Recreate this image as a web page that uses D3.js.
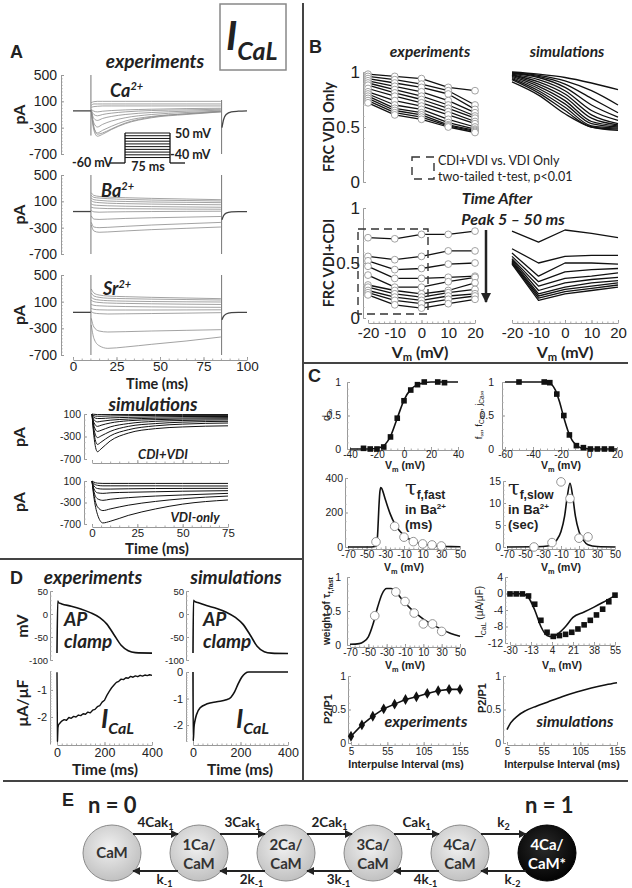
<!DOCTYPE html>
<html>
<head>
<meta charset="utf-8">
<script src="https://cdnjs.cloudflare.com/ajax/libs/d3/7.8.5/d3.min.js"></script>
<style>body{margin:0;background:#fff}</style>
</head>
<body>
<script>
// ---------- data: panel A, experiments (pA vs ms) ----------
const caTimes = [10.5, 12, 14, 17, 22, 30, 45, 65, 85];
const caTraces = [
  [80, 95, 100, 100, 100, 100, 100, 100, 100],
  [40, 60, 60, 60, 60, 60, 60, 60, 60],
  [10, 20, 25, 30, 30, 30, 30, 30, 30],
  [-20, -50, -60, -50, -40, -30, -20, -10, -5],
  [-30, -100, -120, -100, -80, -60, -40, -30, -20],
  [-40, -160, -190, -160, -130, -100, -70, -50, -35],
  [-40, -230, -290, -250, -200, -150, -100, -70, -50],
  [-50, -300, -380, -340, -280, -200, -130, -90, -60],
  [-50, -340, -430, -400, -330, -240, -150, -100, -60],
  [-40, -290, -400, -380, -320, -230, -140, -90, -50]
];
const baTimes = [10.5, 12, 15, 20, 30, 45, 65, 85];
const baTraces = [
  [230, 190, 175, 165, 155, 145, 135, 125],
  [190, 160, 150, 140, 130, 120, 112, 105],
  [150, 125, 115, 105, 98, 90, 85, 80],
  [110, 90, 80, 72, 65, 58, 52, 48],
  [60, 45, 38, 32, 26, 20, 15, 10],
  [10, 0, -5, -10, -12, -15, -18, -20],
  [-40, -60, -65, -62, -58, -55, -52, -50],
  [-120, -170, -175, -170, -160, -150, -140, -130],
  [-220, -290, -300, -295, -280, -260, -240, -220],
  [-260, -350, -370, -365, -350, -330, -310, -290]
];
const srTimes = [10.5, 12, 15, 20, 30, 45, 65, 85];
const srTraces = [
  [290, 230, 200, 185, 175, 165, 155, 145],
  [230, 185, 165, 152, 145, 138, 132, 125],
  [170, 140, 125, 115, 108, 102, 98, 95],
  [120, 100, 88, 80, 74, 68, 62, 58],
  [60, 45, 38, 32, 27, 22, 18, 15],
  [0, -15, -22, -25, -25, -25, -24, -22],
  [-50, -70, -80, -85, -82, -78, -72, -65],
  [-150, -280, -340, -355, -350, -340, -330, -320],
  [-250, -450, -560, -600, -580, -540, -490, -430]
];
const aBaselines = [-45, -55, -60];
const preTimes = [0, 10.2];
const tailTimes = [85.6, 86.5, 88, 91, 95, 100];
const caTail = [-300, -180, -100, -60, -50, -45];
const baTail = [-180, -120, -80, -60, -55, -55];
const srTail = [-170, -120, -85, -65, -60, -60];
// capacitive transients: [time, top, bottom]
const caEdges = [[10.3, 500, -420], [85.4, 120, -700]];
const baEdges = [[10.3, 500, -700], [85.4, 500, -700]];
const srEdges = [[10.3, 500, -700], [85.4, 500, -700]];
const aTicks = [500, 100, -300, -700];
const aTimeTicks = [0, 25, 50, 75, 100];
// voltage protocol
const protoLevels = [-40, -30, -20, -10, 0, 10, 20, 30, 40, 50];
const protoHold = -60;
const protoStep = [0, 75];
const protoPad = [-25, 100];

// ---------- panel A, simulations ----------
const cdiTimes = [0, 1, 3, 5, 10, 20, 35, 50, 75];
const cdiTraces = [
  [100, 95, 90, 90, 90, 90, 90, 90, 90],
  [100, 70, 60, 60, 65, 70, 75, 75, 75],
  [100, 40, 20, 20, 30, 40, 50, 55, 55],
  [100, 0, -40, -30, -10, 10, 25, 30, 35],
  [100, -50, -120, -100, -60, -20, 0, 10, 15],
  [100, -100, -210, -190, -130, -70, -30, -15, -5],
  [100, -160, -320, -290, -210, -120, -70, -45, -30],
  [100, -220, -440, -400, -290, -180, -110, -80, -60],
  [100, -280, -570, -520, -380, -240, -160, -130, -110]
];
const vdiTimes = [0, 1, 3, 6, 10, 20, 35, 50, 75];
const vdiTraces = [
  [100, 80, 60, 55, 55, 55, 55, 55, 55],
  [100, 50, 20, 10, 10, 10, 10, 8, 7],
  [100, 10, -40, -50, -50, -45, -40, -38, -36],
  [100, -40, -120, -130, -120, -110, -100, -90, -80],
  [100, -90, -230, -260, -240, -210, -180, -160, -130],
  [100, -140, -380, -450, -420, -350, -280, -230, -180],
  [100, -190, -520, -680, -650, -540, -420, -330, -253]
];
const simTicks = [100, -300, -700];
const simTimeTicks = [0, 25, 50, 75];

// ---------- panel B ----------
const bVm = [-20, -10, 0, 10, 20];
const vdiExp = [
  [0.98, 0.96, 0.94, 0.86, 0.83],
  [0.96, 0.93, 0.89, 0.83, 0.70],
  [0.94, 0.90, 0.86, 0.80, 0.66],
  [0.92, 0.87, 0.82, 0.74, 0.63],
  [0.90, 0.84, 0.78, 0.70, 0.60],
  [0.88, 0.81, 0.75, 0.67, 0.58],
  [0.85, 0.78, 0.72, 0.64, 0.55],
  [0.82, 0.74, 0.69, 0.61, 0.53],
  [0.80, 0.70, 0.66, 0.57, 0.50],
  [0.78, 0.67, 0.63, 0.54, 0.48],
  [0.76, 0.65, 0.61, 0.52, 0.47],
  [0.74, 0.63, 0.59, 0.51, 0.46],
  [0.72, 0.61, 0.57, 0.50, 0.45]
];
const vdiSim = [
  [1.00, 0.98, 0.95, 0.90, 0.84],
  [0.995, 0.97, 0.92, 0.83, 0.70],
  [0.99, 0.96, 0.89, 0.76, 0.63],
  [0.985, 0.95, 0.86, 0.70, 0.59],
  [0.98, 0.93, 0.83, 0.65, 0.56],
  [0.975, 0.91, 0.80, 0.61, 0.53],
  [0.97, 0.89, 0.77, 0.58, 0.52],
  [0.96, 0.87, 0.74, 0.55, 0.51],
  [0.95, 0.85, 0.71, 0.53, 0.50],
  [0.94, 0.83, 0.68, 0.51, 0.49],
  [0.93, 0.81, 0.65, 0.50, 0.48],
  [0.91, 0.79, 0.62, 0.50, 0.47]
];
const cdiExp = [
  [0.73, 0.72, 0.76, 0.76, 0.79],
  [0.56, 0.53, 0.56, 0.61, 0.61],
  [0.52, 0.44, 0.45, 0.49, 0.50],
  [0.47, 0.36, 0.36, 0.37, 0.38],
  [0.39, 0.28, 0.28, 0.33, 0.37],
  [0.30, 0.25, 0.22, 0.25, 0.32],
  [0.28, 0.22, 0.19, 0.23, 0.26],
  [0.25, 0.19, 0.16, 0.20, 0.22],
  [0.23, 0.16, 0.13, 0.17, 0.20],
  [0.21, 0.12, 0.09, 0.13, 0.17]
];
const cdiSim = [
  [0.79, 0.69, 0.80, 0.77, 0.73],
  [0.63, 0.50, 0.56, 0.57, 0.57],
  [0.59, 0.38, 0.50, 0.50, 0.49],
  [0.56, 0.33, 0.42, 0.44, 0.45],
  [0.54, 0.29, 0.36, 0.38, 0.41],
  [0.53, 0.25, 0.32, 0.35, 0.37],
  [0.52, 0.22, 0.28, 0.32, 0.34],
  [0.51, 0.20, 0.26, 0.29, 0.32],
  [0.50, 0.18, 0.24, 0.27, 0.30],
  [0.49, 0.16, 0.22, 0.25, 0.28]
];
const frcTicks = [0, 0.5, 1];

// ---------- panel C ----------
const dV = [-30, -25, -20, -15, -10, -5, 0, 5, 10, 15, 25, 30];
const dVal = [0.01, 0.0, 0.0, 0.03, 0.18, 0.46, 0.72, 0.88, 0.96, 1.0, 1.0, 0.99];
const dFitV = [-40, -25, -20, -15, -10, -5, 0, 5, 10, 15, 20, 40];
const dFit = [0, 0, 0.01, 0.05, 0.19, 0.46, 0.73, 0.89, 0.96, 0.99, 1, 1];
const fV = [-50, -32, -28, -23, -18, -14, -9, -4, 1, 6, 11, 16];
const fVal = [1, 1, 0.99, 0.82, 0.5, 0.21, 0.05, 0.02, 0, 0, 0, 0];
const fFitV = [-60, -30, -27, -24, -21, -18, -15, -12, -9, -6, -3, 0, 20];
const fFit = [1, 1, 0.97, 0.88, 0.7, 0.47, 0.27, 0.13, 0.06, 0.02, 0.01, 0, 0];
const tfV = [-40, -20, -10, 0, 10, 20, 30];
const tfVal = [30, 120, 57, 31, 18, 12, 6];
const tfFitV = [-70, -45, -40, -39, -38, -37, -36, -35, -34, -30, -25, -20, -15, -10, -5, 0, 10, 20, 30, 40, 50];
const tfFit = [0, 0, 4, 20, 100, 220, 310, 345, 340, 275, 195, 135, 95, 67, 48, 34, 17, 8, 4, 2, 1];
const tsV = [-40, -20, -10, 0, 10, 20];
const tsVal = [0, 1, 14.8, 11, 2, 2.3];
const tsFitV = [-70, -30, -20, -15, -10, -6, -3, 0, 3, 6, 10, 15, 20, 30, 50];
const tsFit = [0, 0.1, 0.5, 1.5, 3.5, 7, 11.5, 14.5, 11.5, 7, 3.5, 1.5, 0.5, 0.1, 0];
const wV = [-43, -20, -10, 0, 10, 20, 30];
const wVal = [0.43, 0.78, 0.64, 0.47, 0.31, 0.31, 0.2];
const wFitV = [-70, -60, -55, -50, -45, -40, -35, -30, -25, -20, -15, -10, -5, 0, 10, 20, 30, 40, 50];
const wFit = [0.01, 0.02, 0.05, 0.12, 0.3, 0.55, 0.75, 0.83, 0.83, 0.78, 0.7, 0.62, 0.55, 0.49, 0.38, 0.3, 0.23, 0.17, 0.13];
const ivV = [-30, -25, -20, -15, -10, -5, 0, 5, 10, 15, 20, 25, 30, 35, 40, 45, 50, 55];
const ivVal = [-0.1, -0.1, -0.1, -0.6, -2.6, -6.5, -9.4, -10.4, -10.2, -9.9, -9.4, -8.6, -7.6, -6.5, -5.2, -3.8, -2, -0.4];
const ivFitV = [-30, -20, -15, -10, -5, 0, 4, 10, 15, 21, 30, 38, 45, 55];
const ivFit = [0, -0.1, -1, -4, -8, -10.2, -10.5, -9.5, -8, -5.8, -4.5, -3.3, -2.2, -0.5];
const ipiExp = [5, 20, 35, 50, 65, 80, 95, 110, 125, 140, 155];
const p2p1Exp = [0.1, 0.27, 0.4, 0.51, 0.58, 0.65, 0.69, 0.74, 0.78, 0.8, 0.8];
const ipiSim = [5, 10, 20, 30, 45, 60, 80, 100, 120, 140, 155];
const p2p1Sim = [0.2, 0.3, 0.41, 0.48, 0.55, 0.61, 0.69, 0.76, 0.82, 0.87, 0.9];

// ---------- panel D ----------
const apExpT = [0, 3, 6, 20, 60, 100, 140, 180, 210, 240, 270, 300, 330, 400];
const apExpV = [-85, 28, 25, 22, 17, 11, 3, -8, -22, -45, -68, -80, -84, -85];
const apSimT = [0, 2, 5, 20, 60, 100, 140, 180, 210, 240, 270, 300, 330, 400];
const apSimV = [-85, 30, 28, 25, 18, 12, 4, -8, -22, -45, -70, -82, -85, -86];
const icalExpT = [0, 2, 4, 6, 10, 20, 30, 40, 50, 60, 70, 80, 90, 100, 110, 120, 130, 140, 150, 160, 170, 180, 190, 200, 210, 220, 230, 240, 250, 260, 270, 280, 290, 300, 310, 320, 330, 340, 350, 360, 370, 380, 390, 400];
const icalExpV = [-0.35, -2.9, -2.4, -2.3, -2.25, -2.15, -2.1, -2.12, -2.02, -2.05, -1.98, -2.0, -1.93, -1.95, -1.88, -1.9, -1.82, -1.85, -1.75, -1.72, -1.62, -1.58, -1.45, -1.38, -1.2, -1.05, -0.92, -0.82, -0.72, -0.68, -0.6, -0.62, -0.55, -0.57, -0.5, -0.53, -0.48, -0.51, -0.46, -0.49, -0.45, -0.47, -0.44, -0.46];
const icalSimT = [0, 1, 4, 8, 15, 30, 60, 100, 140, 160, 175, 190, 205, 220, 235, 250, 400];
const icalSimV = [0, -2.6, -2.1, -1.85, -1.6, -1.35, -1.2, -1.12, -1.05, -0.95, -0.75, -0.45, -0.2, -0.05, 0, 0, 0];

// ---------- panel E ----------
const camStates = ["CaM", "1Ca/|CaM", "2Ca/|CaM", "3Ca/|CaM", "4Ca/|CaM", "4Ca/|CaM*"];
const fwdRates = ["4Cak_1", "3Cak_1", "2Cak_1", "Cak_1", "k_2"];
const revRates = ["k_-1", "2k_-1", "3k_-1", "4k_-1", "k_-2"];

// =========================================================
const svg = d3.select("body").append("svg").attr("width", 632).attr("height", 888);
const ARIAL = "'Liberation Sans', Arial, sans-serif";
const CAL = "Lato, 'Open Sans', sans-serif";

const defs = svg.append("defs");
defs.append("marker").attr("id", "arr").attr("viewBox", "0 0 10 10").attr("refX", 9).attr("refY", 5)
  .attr("markerWidth", 4).attr("markerHeight", 4).attr("orient", "auto-start-reverse")
  .append("path").attr("d", "M0,0L10,5L0,10z").attr("fill", "#222");
const gl = defs.append("radialGradient").attr("id", "gl").attr("cx", "45%").attr("cy", "40%").attr("r", "65%");
gl.append("stop").attr("offset", "0%").attr("stop-color", "#f0f0f0");
gl.append("stop").attr("offset", "100%").attr("stop-color", "#bdbdbd");
const gd = defs.append("radialGradient").attr("id", "gd").attr("cx", "45%").attr("cy", "40%").attr("r", "65%");
gd.append("stop").attr("offset", "0%").attr("stop-color", "#2a2a2a");
gd.append("stop").attr("offset", "100%").attr("stop-color", "#000");

function label(x, y, s, o = {}) {
  const t = svg.append("text").attr("x", x).attr("y", y)
    .style("font-family", o.font || CAL)
    .style("font-size", (o.size || 12) + "px")
    .style("font-weight", o.weight || "bold")
    .style("font-style", o.italic ? "italic" : "normal")
    .attr("fill", o.fill || "#222")
    .attr("text-anchor", o.anchor || "start");
  if (o.rotate) t.attr("transform", `rotate(-90,${x},${y})`);
  if (Array.isArray(s)) {
    s.forEach(p => {
      const ts = t.append("tspan").text(p.t);
      if (p.size) ts.style("font-size", p.size + "px");
      if (p.dy) ts.attr("dy", p.dy);
      if (p.font) ts.style("font-family", p.font);
      if (p.weight) ts.style("font-weight", p.weight);
      if (p.italic !== undefined) ts.style("font-style", p.italic ? "italic" : "normal");
    });
  } else t.text(s);
  return t;
}

function styleAxis(g, o) {
  g.select(".domain").attr("stroke", o.color || "#999");
  g.selectAll(".tick line").attr("stroke", o.color || "#999");
  g.selectAll("text").style("font-family", o.font || ARIAL)
    .style("font-size", (o.size || 11) + "px").attr("fill", "#222");
}
function yAxis(x, scale, major, minor, o = {}) {
  const g = svg.append("g").attr("transform", `translate(${x},0)`)
    .call(d3.axisLeft(scale).tickValues(major).tickSize(-(o.tick || 3)).tickSizeOuter(0)
      .tickPadding(o.pad == null ? 3 : o.pad).tickFormat(o.fmt || (d => String(d))));
  styleAxis(g, o);
  if (minor) {
    const m = svg.append("g").attr("transform", `translate(${x},0)`)
      .call(d3.axisLeft(scale).tickValues(minor).tickSize(-1.5).tickSizeOuter(0).tickFormat(""));
    m.select(".domain").remove();
    m.selectAll("line").attr("stroke", o.color || "#aaa");
  }
  return g;
}
function xAxis(y, scale, major, minor, o = {}) {
  const g = svg.append("g").attr("transform", `translate(0,${y})`)
    .call(d3.axisBottom(scale).tickValues(major).tickSize(-(o.tick || 3)).tickSizeOuter(0)
      .tickPadding(o.pad == null ? 3 : o.pad).tickFormat(o.noLabels ? "" : (o.fmt || (d => String(d)))));
  styleAxis(g, o);
  if (minor) {
    const m = svg.append("g").attr("transform", `translate(0,${y})`)
      .call(d3.axisBottom(scale).tickValues(minor).tickSize(-1.5).tickSizeOuter(0).tickFormat(""));
    m.select(".domain").remove();
    m.selectAll("line").attr("stroke", o.color || "#aaa");
  }
  return g;
}
function path(xs, ys, sx, sy, o = {}) {
  const line = d3.line().x(d => sx(d[0])).y(d => sy(d[1])).curve(o.curve || d3.curveLinear);
  return svg.append("path").datum(xs.map((x, i) => [x, ys[i]])).attr("d", line)
    .attr("fill", "none").attr("stroke", o.stroke || "#111")
    .attr("stroke-width", o.width || 1.2).attr("stroke-linejoin", "round");
}
const range = (a, b, s) => d3.range(a, b + s / 2, s);
const Vm = (size = 11) => [{ t: "V" }, { t: "m", size: size * 0.7, dy: 3 }, { t: " (mV)", size, dy: -3 }];

// =========================================================
// Panel A
label(10, 58, "A", { size: 18, font: ARIAL });
svg.append("rect").attr("x", 220).attr("y", 4).attr("width", 66).attr("height", 66)
  .attr("fill", "none").attr("stroke", "#888").attr("stroke-width", 1.5);
label(226, 50, [{ t: "I" }, { t: "CaL", size: 25, dy: 10 }], { size: 40, italic: true });
label(155, 68, "experiments", { size: 19, italic: true, anchor: "middle" });

const tA = d3.scaleLinear([0, 100], [73, 247]);
const aPanels = [
  { times: caTimes, traces: caTraces, edges: caEdges, tail: caTail, base: aBaselines[0], y: d3.scaleLinear([-700, 500], [154, 75]), ion: "Ca", lx: 110, ly: 97 },
  { times: baTimes, traces: baTraces, edges: baEdges, tail: baTail, base: aBaselines[1], y: d3.scaleLinear([-700, 500], [254, 175]), ion: "Ba", lx: 101, ly: 197 },
  { times: srTimes, traces: srTraces, edges: srEdges, tail: srTail, base: aBaselines[2], y: d3.scaleLinear([-700, 500], [355, 275]), ion: "Sr", lx: 103, ly: 295 }
];
aPanels.forEach(p => {
  yAxis(61, p.y, aTicks, range(-700, 500, 50), { size: 14, pad: 4, color: "#999" });
  label(25, (p.y(500) + p.y(-700)) / 2, "pA", { size: 16, rotate: true, anchor: "middle" });
  p.traces.forEach(tr => path(p.times, tr, tA, p.y, { stroke: "#8c8c8c", width: 0.8, curve: d3.curveMonotoneX }));
  p.edges.forEach(e => path([e[0], e[0]], [e[1], e[2]], tA, p.y, { stroke: "#777", width: 1 }));
  path(preTimes, preTimes.map(() => p.base), tA, p.y, { stroke: "#444", width: 1.3 });
  path(tailTimes, p.tail, tA, p.y, { stroke: "#444", width: 1.3, curve: d3.curveMonotoneX });
  label(p.lx, p.ly, [{ t: p.ion }, { t: "2+", size: 11, dy: -7 }], { size: 18, italic: true });
});
xAxis(360, tA, aTimeTicks, range(0, 100, 5), { size: 13.5, pad: 1 });
label(157, 389, "Time (ms)", { size: 14.5, anchor: "middle" });

// voltage protocol inset
const pX = d3.scaleLinear(protoStep, [125, 170]);
const pY = d3.scaleLinear([protoHold, 50], [163, 133]);
path([protoPad[0], protoStep[0]], [protoHold, protoHold], pX, pY, { width: 1.3 });
path([protoStep[1], protoPad[1]], [protoHold, protoHold], pX, pY, { width: 1.3 });
protoLevels.forEach(v => path(protoStep, [v, v], pX, pY, { width: 1 }));
protoStep.forEach(t => path([t, t], [protoHold, d3.max(protoLevels)], pX, pY, { width: 1.3 }));
label(72, 167, "-60 mV", { size: 12.5 });
label(175, 138, "50 mV", { size: 12.5 });
label(170, 159, "-40 mV", { size: 12.5 });
label(148, 171, "75 ms", { size: 12.5, anchor: "middle" });

// simulations
label(153, 411, "simulations", { size: 18.5, italic: true, anchor: "middle" });
const tS = d3.scaleLinear([0, 75], [92, 228]);
const ySim1 = d3.scaleLinear([-700, 100], [459, 414]);
const ySim2 = d3.scaleLinear([-700, 100], [524, 481]);
yAxis(84, ySim1, simTicks, range(-700, 100, 100), { size: 10.5, pad: 3 });
yAxis(84, ySim2, simTicks, range(-700, 100, 100), { size: 10.5, pad: 3 });
xAxis(463, tS, simTimeTicks, range(0, 75, 5), { noLabels: true });
xAxis(527, tS, simTimeTicks, range(0, 75, 5), { size: 11.5, pad: 2 });
cdiTraces.forEach(tr => path(cdiTimes, tr, tS, ySim1, { width: 1, curve: d3.curveMonotoneX }));
vdiTraces.forEach(tr => path(vdiTimes, tr, tS, ySim2, { width: 1, curve: d3.curveMonotoneX }));
label(25, 437, "pA", { size: 16, rotate: true, anchor: "middle" });
label(25, 502, "pA", { size: 16, rotate: true, anchor: "middle" });
label(163, 459, "CDI+VDI", { size: 13, italic: true, anchor: "middle" });
label(195, 522, "VDI-only", { size: 13, italic: true, anchor: "middle" });
label(157, 554, "Time (ms)", { size: 15, anchor: "middle" });

// =========================================================
// dividers
const divider = (x1, y1, x2, y2) => svg.append("line").attr("x1", x1).attr("y1", y1).attr("x2", x2).attr("y2", y2)
  .attr("stroke", "#444").attr("stroke-width", 2);
divider(303, 3, 303, 782);
divider(0, 559, 303, 559);
divider(303, 363, 628, 363);
divider(3, 781, 628, 781);

// =========================================================
// Panel B
label(309, 53, "B", { size: 18, font: ARIAL });
label(430, 57, "experiments", { size: 15.5, italic: true, anchor: "middle" });
label(567, 57, "simulations", { size: 15.5, italic: true, anchor: "middle" });
const vB = d3.scaleLinear([-20, 20], [368, 475]);
const vBs = d3.scaleLinear([-20, 20], [512, 618]);
const yB1 = d3.scaleLinear([0, 1], [182, 72]);
const yB2 = d3.scaleLinear([0, 1], [318, 208]);
yAxis(363, yB1, frcTicks, range(0, 1, 0.1), { size: 17, pad: 3 });
yAxis(363, yB2, frcTicks, range(0, 1, 0.1), { size: 17, pad: 3 });
xAxis(323, vB, bVm, range(-20, 20, 2), { size: 15, pad: 4 });
xAxis(323, vBs, bVm, range(-20, 20, 2), { size: 15, pad: 4 });
label(334, (yB1(0) + yB1(1)) / 2, "FRC VDI Only", { size: 14.5, rotate: true, anchor: "middle" });
label(334, (yB2(0) + yB2(1)) / 2, "FRC VDI+CDI", { size: 14.5, rotate: true, anchor: "middle" });
label(420, 358, Vm(16), { size: 16, anchor: "middle" });
label(565, 358, Vm(16), { size: 16, anchor: "middle" });

function expSeries(rows, sy) {
  rows.forEach(r => path(bVm, r, vB, sy, { width: 1.3 }));
  rows.forEach(r => svg.append("g").selectAll("circle").data(r).join("circle")
    .attr("cx", (d, i) => vB(bVm[i])).attr("cy", d => sy(d)).attr("r", 3.4)
    .attr("fill", "#fff").attr("stroke", "#999").attr("stroke-width", 0.9));
}
expSeries(vdiExp, yB1);
expSeries(cdiExp, yB2);
vdiSim.forEach(r => path(bVm, r, vBs, yB1, { width: 1.3, curve: d3.curveMonotoneX }));
cdiSim.forEach(r => path(bVm, r, vBs, yB2, { width: 1.3 }));

svg.append("rect").attr("x", 412).attr("y", 157).attr("width", 22).attr("height", 22)
  .attr("fill", "none").attr("stroke", "#333").attr("stroke-width", 1.4).attr("stroke-dasharray", "8,6");
label(438, 165, "CDI+VDI vs. VDI Only", { size: 12.5, weight: "normal" });
label(438, 181, "two-tailed t-test, p<0.01", { size: 12.5, weight: "normal" });
svg.append("rect").attr("x", 358).attr("y", 229).attr("width", 70).attr("height", 85)
  .attr("fill", "none").attr("stroke", "#333").attr("stroke-width", 1.4).attr("stroke-dasharray", "8,5");
label(497, 204, "Time After", { size: 16, italic: true, anchor: "middle" });
label(513, 225, "Peak 5 \u2013 50 ms", { size: 16, italic: true, anchor: "middle" });
svg.append("line").attr("x1", 486).attr("y1", 230).attr("x2", 486).attr("y2", 302)
  .attr("stroke", "#222").attr("stroke-width", 2.5).attr("marker-end", "url(#arr)");

// =========================================================
// Panel C
label(308, 382, "C", { size: 18, font: ARIAL });
function cPlot(o) {
  yAxis(o.ax, o.y, o.yt, o.ym, { size: 10.5, pad: o.ypad || 2 });
  xAxis(o.ay, o.x, o.xt, o.xm, { size: 10, pad: o.xpad });
}
const markSq = (xs, ys, sx, sy) => svg.append("g").selectAll("rect").data(xs).join("rect")
  .attr("x", d => sx(d) - 2.8).attr("y", (d, i) => sy(ys[i]) - 2.8).attr("width", 5.6).attr("height", 5.6).attr("fill", "#111");
const markCirc = (xs, ys, sx, sy) => svg.append("g").selectAll("circle").data(xs).join("circle")
  .attr("cx", d => sx(d)).attr("cy", (d, i) => sy(ys[i])).attr("r", 4.3)
  .attr("fill", "#fff").attr("stroke", "#888").attr("stroke-width", 0.9);

// row 1
const x11 = d3.scaleLinear([-40, 40], [350, 458]), y11 = d3.scaleLinear([0, 1], [449, 382]);
cPlot({ x: x11, y: y11, ax: 347, ay: 450, xt: [-40, -20, 0, 20, 40], xm: range(-40, 40, 5), yt: frcTicks, ym: range(0, 1, 0.1), xpad: 1, ypad: 6 });
path(dFitV, dFit, x11, y11, { width: 1.6, curve: d3.curveMonotoneX });
markSq(dV, dVal, x11, y11);
label(405, 469, Vm(10.5), { size: 10.5, anchor: "middle", font: ARIAL });
label(330, 415, [{ t: "d" }, { t: "\u221e", size: 8, dy: 3 }], { size: 11, rotate: true, anchor: "middle", font: ARIAL, weight: "normal" });

const x12 = d3.scaleLinear([-60, 20], [505, 617]);
cPlot({ x: x12, y: y11, ax: 502, ay: 450, xt: [-60, -40, -20, 0, 20], xm: range(-60, 20, 5), yt: frcTicks, ym: range(0, 1, 0.1), xpad: 1, ypad: 8 });
path(fFitV, fFit, x12, y11, { width: 1.6, curve: d3.curveMonotoneX });
markSq(fV, fVal, x12, y11);
label(561, 469, Vm(10.5), { size: 10.5, anchor: "middle", font: ARIAL });
label(482, 415, [{ t: "f" }, { t: "\u221e", size: 6.5, dy: 2 }, { t: ", f", dy: -2 }, { t: "Ca\u221e", size: 6.5, dy: 2 }, { t: ", j", dy: -2 }, { t: "Ca\u221e", size: 6.5, dy: 2 }],
  { size: 9.5, rotate: true, anchor: "middle", font: ARIAL, weight: "normal" });

// row 2
const x21 = d3.scaleLinear([-70, 50], [348, 460]), y21 = d3.scaleLinear([0, 400], [547, 478]);
cPlot({ x: x21, y: y21, ax: 345, ay: 549, xt: [-70, -50, -30, -10, 10, 30, 50], xm: range(-70, 50, 5), yt: [0, 200, 400], ym: range(0, 400, 50), xpad: 2 });
path(tfFitV, tfFit, x21, y21, { width: 1.6, curve: d3.curveMonotoneX });
markCirc(tfV, tfVal, x21, y21);
label(404, 571, Vm(10.5), { size: 10.5, anchor: "middle", font: ARIAL });
label(405, 495, [{ t: "\u03c4", font: "'DejaVu Serif', serif", weight: "normal" }, { t: "f,fast", size: 12, dy: 4 }], { size: 21, font: ARIAL });
label(405, 514, [{ t: "in Ba" }, { t: "2+", size: 8, dy: -5 }], { size: 13, font: ARIAL });
label(405, 529, "(ms)", { size: 13, font: ARIAL });

const x22 = d3.scaleLinear([-70, 50], [507, 615]), y22 = d3.scaleLinear([0, 15], [547, 481]);
cPlot({ x: x22, y: y22, ax: 503, ay: 549, xt: [-70, -50, -30, -10, 10, 30, 50], xm: range(-70, 50, 5), yt: [0, 5, 10, 15], ym: range(0, 15, 1), xpad: 2 });
path(tsFitV, tsFit, x22, y22, { width: 1.6, curve: d3.curveMonotoneX });
markCirc(tsV, tsVal, x22, y22);
label(561, 571, Vm(10.5), { size: 10.5, anchor: "middle", font: ARIAL });
label(508, 495, [{ t: "\u03c4", font: "'DejaVu Serif', serif", weight: "normal" }, { t: "f,slow", size: 12, dy: 4 }], { size: 21, font: ARIAL });
label(508, 514, [{ t: "in Ba" }, { t: "2+", size: 8, dy: -5 }], { size: 13, font: ARIAL });
label(508, 529, "(sec)", { size: 13, font: ARIAL });

// row 3
const x31 = d3.scaleLinear([-70, 50], [350, 460]), y31 = d3.scaleLinear([0, 1], [645, 577]);
cPlot({ x: x31, y: y31, ax: 347, ay: 647, xt: [-70, -50, -30, -10, 10, 30, 50], xm: range(-70, 50, 5), yt: frcTicks, ym: range(0, 1, 0.1), xpad: 2, ypad: 6 });
path(wFitV, wFit, x31, y31, { width: 1.6, curve: d3.curveMonotoneX });
markCirc(wV, wVal, x31, y31);
label(405, 669, Vm(10.5), { size: 10.5, anchor: "middle", font: ARIAL });
label(330, 611, [{ t: "weight of \u03c4" }, { t: "f,fast", size: 7, dy: 2.5 }], { size: 10, rotate: true, anchor: "middle", font: ARIAL });

const x32 = d3.scaleLinear([-30, 55], [510, 615]), y32 = d3.scaleLinear([-12, 4], [643, 577]);
cPlot({ x: x32, y: y32, ax: 505, ay: 645, xt: [-30, -13, 4, 21, 38, 55], xm: range(-30, 55, 4.25), yt: [-12, -8, -4, 0, 4], ym: range(-12, 4, 1), xpad: 2 });
path(ivFitV, ivFit, x32, y32, { width: 1.6, curve: d3.curveMonotoneX });
markSq(ivV, ivVal, x32, y32);
label(562, 669, Vm(10.5), { size: 10.5, anchor: "middle", font: ARIAL });
label(483, 612, [{ t: "I" }, { t: "CaL", size: 7, dy: 2.5 }, { t: " (\u03bcA/\u03bcF)", dy: -2.5 }], { size: 10, rotate: true, anchor: "middle", font: ARIAL, weight: "normal" });

// row 4
const x41 = d3.scaleLinear([5, 155], [351, 460]), y41 = d3.scaleLinear([0, 1], [743, 676]);
cPlot({ x: x41, y: y41, ax: 348, ay: 745, xt: [5, 55, 105, 155], xm: range(5, 155, 10), yt: frcTicks, ym: range(0, 1, 0.1), xpad: 3 });
path(ipiExp, p2p1Exp, x41, y41, { width: 1.6 });
svg.append("g").selectAll("path").data(ipiExp).join("path")
  .attr("d", d3.symbol(d3.symbolDiamond, 34)).attr("fill", "#111")
  .attr("transform", (d, i) => `translate(${x41(d)},${y41(p2p1Exp[i])})`);
label(406, 768, "Interpulse Interval (ms)", { size: 10.5, anchor: "middle", font: ARIAL });
label(332, 709, "P2/P1", { size: 11, rotate: true, anchor: "middle", font: ARIAL });
label(426, 727, "experiments", { size: 16, italic: true, anchor: "middle" });

const x42 = d3.scaleLinear([5, 155], [507, 617]);
cPlot({ x: x42, y: y41, ax: 503, ay: 745, xt: [5, 55, 105, 155], xm: range(5, 155, 10), yt: frcTicks, ym: range(0, 1, 0.1), xpad: 3 });
path(ipiSim, p2p1Sim, x42, y41, { width: 1.6, curve: d3.curveMonotoneX });
label(562, 768, "Interpulse Interval (ms)", { size: 10.5, anchor: "middle", font: ARIAL });
label(486, 698, "P2/P1", { size: 11, rotate: true, anchor: "middle", font: ARIAL });
label(575, 727, "simulations", { size: 16, italic: true, anchor: "middle" });

// =========================================================
// Panel D
label(10, 584, "D", { size: 18, font: ARIAL });
label(93, 584, "experiments", { size: 19, italic: true, anchor: "middle" });
label(236, 584, "simulations", { size: 19, italic: true, anchor: "middle" });
const tDL = d3.scaleLinear([0, 400], [57, 152]);
const tDR = d3.scaleLinear([0, 400], [193, 288]);
const yAP = d3.scaleLinear([-100, 50], [660, 591]);
const yIL = d3.scaleLinear([-3, -0.3], [744, 671]);
const yIR = d3.scaleLinear([-2.6, 0], [741, 672]);
yAxis(50, yAP, [50, 0, -50, -100], range(-100, 50, 10), { size: 9.5, pad: 2 });
yAxis(186, yAP, [50, 0, -50, -100], range(-100, 50, 10), { size: 9.5, pad: 2 });
yAxis(50, yIL, [-1, -2], range(-2.9, -0.3, 0.1), { size: 11, pad: 3 });
yAxis(186, yIR, [0, -1, -2], range(-2.6, 0, 0.1), { size: 11, pad: 3 });
xAxis(745, tDL, [0, 200, 400], range(0, 400, 20), { size: 12.5, pad: 3 });
xAxis(745, tDR, [0, 200, 400], range(0, 400, 20), { size: 12.5, pad: 3 });
path(apExpT, apExpV, tDL, yAP, { width: 1.6, curve: d3.curveMonotoneX });
path(apSimT, apSimV, tDR, yAP, { width: 1.6, curve: d3.curveMonotoneX });
path(icalExpT, icalExpV, tDL, yIL, { width: 1.4 });
path(icalSimT, icalSimV, tDR, yIR, { width: 1.6, curve: d3.curveMonotoneX });
label(28, 626, "mV", { size: 16, rotate: true, anchor: "middle" });
label(28, 703, "\u03bcA/\u03bcF", { size: 16, rotate: true, anchor: "middle" });
[64, 203].forEach(x => {
  label(x, 626, "AP", { size: 19, italic: true });
  label(x, 648, "clamp", { size: 19, italic: true });
});
label(101, 728, [{ t: "I" }, { t: "CaL", size: 16, dy: 6 }], { size: 26, italic: true });
label(236, 728, [{ t: "I" }, { t: "CaL", size: 16, dy: 6 }], { size: 26, italic: true });
label(105, 775, "Time (ms)", { size: 15.5, anchor: "middle" });
label(240, 775, "Time (ms)", { size: 15.5, anchor: "middle" });

// =========================================================
// Panel E
label(62, 806, "E", { size: 18, font: ARIAL });
label(88, 813, "n = 0", { size: 22 });
label(525, 813, "n = 1", { size: 22 });
const sx = d3.scalePoint(d3.range(camStates.length), [112, 547]);
const cy = 853;
camStates.forEach((s, i) => {
  const last = i === camStates.length - 1;
  svg.append("ellipse").attr("cx", sx(i)).attr("cy", cy).attr("rx", 29).attr("ry", 28)
    .attr("fill", last ? "url(#gd)" : "url(#gl)").attr("stroke", last ? "#000" : "#8a8a8a").attr("stroke-width", 1);
  const lines = s.split("|");
  lines.forEach((ln, j) => label(sx(i), lines.length === 1 ? cy + 5 : cy - 3 + j * 19, ln,
    { size: 15, anchor: "middle", fill: last ? "#fff" : "#333" }));
});
const rateText = r => {
  const [a, b] = r.split("_");
  return [{ t: a }, { t: b, size: 9, dy: 3 }];
};
d3.range(camStates.length - 1).forEach(i => {
  const x1 = sx(i) + 21, x2 = sx(i + 1) - 21;
  svg.append("line").attr("x1", x1).attr("y1", cy - 19).attr("x2", x2).attr("y2", cy - 19)
    .attr("stroke", "#222").attr("stroke-width", 2).attr("marker-end", "url(#arr)");
  svg.append("line").attr("x1", x2).attr("y1", cy + 18).attr("x2", x1).attr("y2", cy + 18)
    .attr("stroke", "#222").attr("stroke-width", 2).attr("marker-end", "url(#arr)");
  label((sx(i) + sx(i + 1)) / 2, cy - 26, rateText(fwdRates[i]), { size: 13.5, anchor: "middle" });
  label((sx(i) + sx(i + 1)) / 2 + 9, cy + 31, rateText(revRates[i]), { size: 13.5, anchor: "middle" });
});
</script>
</body>
</html>
